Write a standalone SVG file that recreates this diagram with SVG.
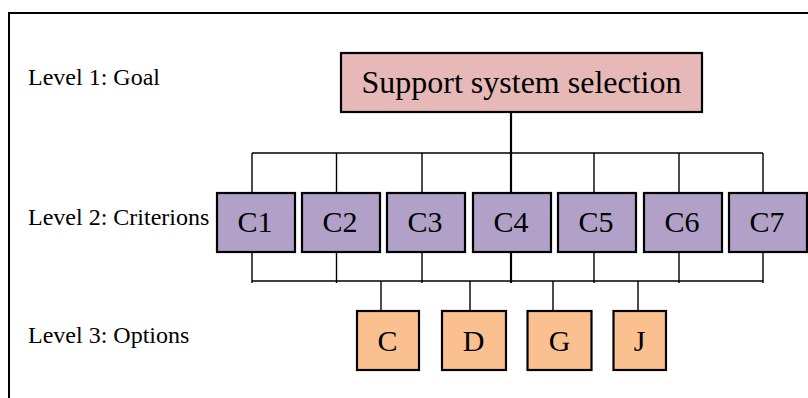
<svg xmlns="http://www.w3.org/2000/svg" width="808" height="398" viewBox="0 0 808 398">
<style>
text{font-family:"Liberation Serif","Times New Roman",serif;fill:#000}
.lbl{font-size:24px}
.box{stroke:#000;stroke-width:2.2}
.goal{fill:#E6B8B7}
.crit{fill:#B1A0C7}
.opt{fill:#FAC090}
.ct{font-size:30px;text-anchor:middle}
.ot{font-size:30px;text-anchor:middle}
.ln{stroke:#000;stroke-width:1.4;fill:none}
.main{stroke:#000;stroke-width:2.2;fill:none}
</style>
<rect x="9" y="13" width="820" height="400" fill="#fff" stroke="#000" stroke-width="2"/>
<g id="labels">
<text class="lbl" x="28" y="85">Level 1: Goal</text>
<text class="lbl" x="28" y="225">Level 2: Criterions</text>
<text class="lbl" x="28" y="343">Level 3: Options</text>
</g>
<g id="connectors">
<line class="main" x1="511" y1="112" x2="511" y2="283"/>
<path class="ln" d="M252 153H763M252 281H763"/>
<path class="ln" d="M252 153V193M336.5 153V193M422 153V193M594 153V193M679 153V193M763 153V193"/>
<path class="ln" d="M252 252V283M336.5 252V283M422 252V283M594 252V283M679 252V283M763 252V283"/>
<path class="ln" d="M381 281V311M470 281V311M553 281V311M638 281V311"/>
</g>
<g id="goal"><rect class="box goal" x="341" y="53" width="361" height="59"/><text x="521.5" y="93" font-size="32" text-anchor="middle">Support system selection</text></g>
<g id="c1"><rect class="box crit" x="217" y="193" width="78" height="59"/><text class="ct" x="255" y="232">C1</text></g>
<g id="c2"><rect class="box crit" x="302" y="193" width="78" height="59"/><text class="ct" x="340" y="232">C2</text></g>
<g id="c3"><rect class="box crit" x="387" y="193" width="78" height="59"/><text class="ct" x="425" y="232">C3</text></g>
<g id="c4"><rect class="box crit" x="473" y="193" width="78" height="59"/><text class="ct" x="511" y="232">C4</text></g>
<g id="c5"><rect class="box crit" x="558" y="193" width="78" height="59"/><text class="ct" x="596" y="232">C5</text></g>
<g id="c6"><rect class="box crit" x="644" y="193" width="78" height="59"/><text class="ct" x="682" y="232">C6</text></g>
<g id="c7"><rect class="box crit" x="729" y="193" width="78" height="59"/><text class="ct" x="767" y="232">C7</text></g>
<g id="optC"><rect class="box opt" x="357" y="311" width="62" height="59"/><text class="ot" x="387.5" y="351">C</text></g>
<g id="optD"><rect class="box opt" x="442" y="311" width="64" height="59"/><text class="ot" x="473.5" y="351">D</text></g>
<g id="optG"><rect class="box opt" x="527.5" y="311" width="64" height="59"/><text class="ot" x="559.5" y="351">G</text></g>
<g id="optJ"><rect class="box opt" x="613.5" y="311" width="52.5" height="59"/><text class="ot" x="639.5" y="351">J</text></g>
</svg>
